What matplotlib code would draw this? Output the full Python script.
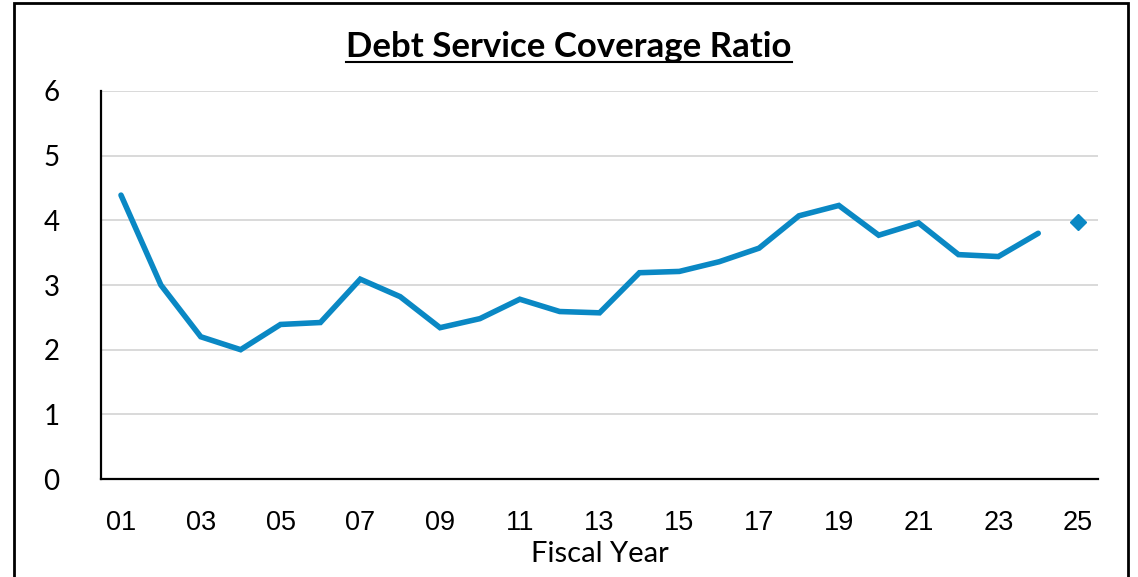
import numpy as np
import matplotlib
matplotlib.use('Agg')
import matplotlib.pyplot as plt
from matplotlib.lines import Line2D
from matplotlib.patches import Rectangle

# fiscal years and coverage ratio
years = ['01', '02', '03', '04', '05', '06', '07', '08', '09', '10', '11', '12', '13',
         '14', '15', '16', '17', '18', '19', '20', '21', '22', '23', '24', '25']
dscr = [4.39, 3.00, 2.20, 2.00, 2.39, 2.42, 3.09, 2.82, 2.34, 2.48, 2.78, 2.59, 2.57,
        3.19, 3.21, 3.36, 3.57, 4.07, 4.23, 3.77, 3.96, 3.47, 3.44, 3.80]
projected = 3.98  # FY25 estimate, drawn as a single marker

line_color = '#0A88C4'

fig = plt.figure(figsize=(11.38, 5.77), dpi=100)
ax = fig.add_axes([0.0888, 0.1698, 0.9649 - 0.0888, 0.8423 - 0.1698])

x = np.arange(len(years))
ax.plot(x[:len(dscr)], dscr, color=line_color, lw=4.0, solid_capstyle='round',
        solid_joinstyle='miter', zorder=3)
ax.plot([x[-1]], [projected], marker='D', color=line_color, markersize=8, ls='none', zorder=3)

ax.set_xlim(-0.5, len(years) - 0.5)
ax.set_ylim(0, 6)
ax.set_yticks(range(0, 7))
ax.set_xticks(x[::2])
ax.set_xticklabels(years[::2], family='Liberation Sans', fontsize=19.5)
ax.set_yticklabels([str(v) for v in range(0, 7)], family='Lato', fontsize=20)
ax.tick_params(axis='both', length=0)
ax.tick_params(axis='y', pad=30)
ax.tick_params(axis='x', pad=22)

ax.grid(axis='y', color='#D9D9D9', lw=1.4)
ax.set_axisbelow(True)
for s in ['top', 'right']:
    ax.spines[s].set_visible(False)
for s in ['left', 'bottom']:
    ax.spines[s].set_color('black')
    ax.spines[s].set_linewidth(1.6)
ax.spines['left'].set_zorder(4)

ax.set_xlabel('Fiscal Year', family='Lato', fontsize=21, labelpad=4)

title = fig.text(0.5, 1 - 47 / 577, 'Debt Service Coverage Ratio', ha='center', va='center',
                 family='Lato', fontweight='bold', fontsize=25)

# underline the title
fig.canvas.draw()
bb = title.get_window_extent()
W, H = fig.get_size_inches() * fig.dpi
uy = 1 - 62 / 577
fig.add_artist(Line2D([bb.x0 / W, bb.x1 / W], [uy, uy], color='black', lw=1.5))

# outer frame (bottom edge runs off the image)
fig.add_artist(Rectangle((14 / 1138, -0.05), (1128 - 14) / 1138, 1 - 3 / 577 + 0.05,
                         transform=fig.transFigure, fill=False, ec='black', lw=2))

fig.savefig('out.png', dpi=100)
